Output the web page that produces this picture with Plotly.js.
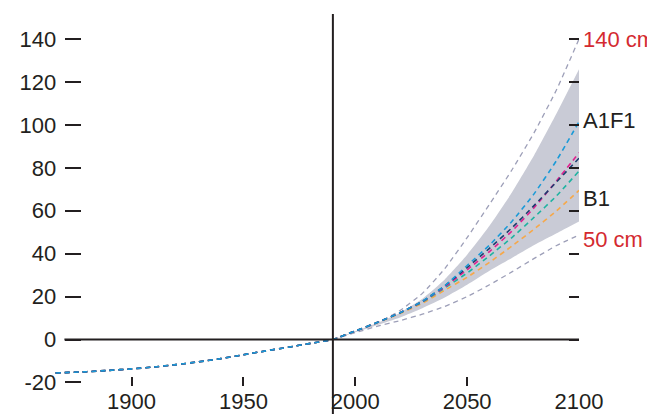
<!DOCTYPE html>
<html>
<head>
<meta charset="utf-8">
<script src="https://cdn.plot.ly/plotly-3.0.1.min.js"></script>
<style>
  html, body { margin: 0; padding: 0; background: #ffffff; }
  #chart { width: 647px; height: 414px; }
</style>
</head>
<body>
<div id="chart"></div>
<script>
// ---- data (cm of sea-level change relative to 1990) ----
const histYears  = [1866, 1880, 1890, 1900, 1910, 1920, 1930, 1940, 1950, 1960, 1970, 1980, 1990];
const histValues = [-15.6, -15.0, -14.4, -13.7, -12.8, -11.7, -10.4, -8.9, -7.1, -5.3, -3.6, -1.8, 0];

const futureYears = [1990, 2000, 2010, 2020, 2030, 2040, 2050, 2060, 2070, 2080, 2090, 2100];
const bandUpper   = [0, 3.8, 7.8, 12.5, 19, 28, 39.5, 53, 68.5, 86, 105.5, 126];
const bandLower   = [0, 3.4, 6.8, 10.3, 14.6, 19.6, 25.5, 32, 38, 44, 49.5, 55];
const upper140    = [0, 3.6, 7.8, 13.5, 21.5, 33, 47.5, 63, 79, 96.5, 116.5, 140];
const lower50     = [0, 3.2, 6.2, 8.8, 11.8, 15.4, 20, 25.5, 31.5, 37.8, 43.8, 48.7];
const seriesA1F1  = [0, 4, 8, 12.5, 17.8, 25, 34.5, 44, 55, 68, 83.5, 101.5];
const seriesMagenta = [0, 4, 8, 12.5, 17.6, 24.5, 32.5, 41, 50.5, 61.5, 74, 87];
const seriesNavy  = [0, 4, 8, 12.5, 17.8, 25, 33.5, 42.5, 52, 62.5, 73.5, 84.5];
const seriesTeal  = [0, 4, 8, 12.4, 17.4, 24, 31, 39, 47.5, 57, 67, 78.5];
const seriesB1    = [0, 4, 7.9, 12.1, 16.9, 23, 29, 36, 43.5, 51.5, 60, 69.5];

const xTickVals = [1900, 1950, 2000, 2050, 2100];
const yTickVals = [-20, 0, 20, 40, 60, 80, 100, 120, 140];
const yTickValsRight = [0, 20, 40, 60, 80, 100, 120, 140];

const labels = [
  {text: '140 cm', y: 140, color: '#d42a30'},
  {text: 'A1F1',   y: 102, color: '#231f20'},
  {text: 'B1',     y: 65.5, color: '#231f20'},
  {text: '50 cm',  y: 46.4, color: '#d42a30'}
];

// ---- styles ----
const FONT = 'Liberation Sans, Arial, sans-serif';
const FSIZE = 22;
const INK = '#231f20';
const DASH = '5px,4px';

function withHistory(vals) {
  return {
    x: histYears.concat(futureYears.slice(1)),
    y: histValues.concat(vals.slice(1))
  };
}

const SPL = {shape: 'spline', smoothing: 0.5};
const traces = [];
traces.push({x: futureYears, y: bandLower, mode: 'lines', line: Object.assign({width: 0, color: 'rgba(0,0,0,0)'}, SPL), hoverinfo: 'skip'});
traces.push({x: futureYears, y: bandUpper, mode: 'lines', fill: 'tonexty', fillcolor: '#c9cbd6', line: Object.assign({width: 0, color: 'rgba(0,0,0,0)'}, SPL), hoverinfo: 'skip'});
traces.push({x: futureYears, y: upper140, mode: 'lines', line: Object.assign({width: 1.3, color: '#9d9fb8', dash: DASH}, SPL)});
traces.push({x: futureYears, y: lower50, mode: 'lines', line: Object.assign({width: 1.3, color: '#9d9fb8', dash: DASH}, SPL)});

const colored = [
  {vals: seriesB1, color: '#f6a84a'},
  {vals: seriesTeal, color: '#1fb3a1'},
  {vals: seriesMagenta, color: '#e0208f'},
  {vals: seriesNavy, color: '#1d3c6e'},
  {vals: seriesA1F1, color: '#1b9ad7'}
];
colored.forEach(function (s, i) {
  const d = withHistory(s.vals);
  traces.push({x: d.x, y: d.y, mode: 'lines', line: Object.assign({width: 1.6, color: s.color, dash: DASH}, SPL)});
});

// placeholder trace to activate right axis
traces.push({x: [2100], y: [0], yaxis: 'y2', mode: 'markers', marker: {opacity: 0}, hoverinfo: 'skip'});

const yRange = [-21.67, 151.7];

const layout = {
  width: 647, height: 414,
  margin: {l: 55, r: 68.3, t: 14, b: 28},
  paper_bgcolor: '#ffffff', plot_bgcolor: '#ffffff',
  showlegend: false,
  font: {family: FONT, size: FSIZE, color: INK},
  xaxis: {
    range: [1865.8, 2100],
    tickvals: xTickVals, ticktext: xTickVals.map(String),
    ticks: 'inside', ticklen: 9, tickwidth: 2, tickcolor: INK,
    showgrid: false, zeroline: false, showline: false,
    ticklabelstandoff: 0,
    tickfont: {family: FONT, size: FSIZE, color: INK}
  },
  yaxis: {
    range: yRange,
    anchor: 'free', position: 0.0178,
    tickvals: yTickVals, ticktext: yTickVals.map(String),
    ticks: 'inside', ticklen: 16, tickwidth: 2, tickcolor: INK,
    showgrid: false, zeroline: false, showline: false,
    ticklabelstandoff: 8,
    tickfont: {family: FONT, size: FSIZE, color: INK}
  },
  yaxis2: {
    range: yRange, overlaying: 'y', side: 'right', anchor: 'x',
    tickvals: yTickValsRight,
    ticks: 'inside', ticklen: 10, tickwidth: 2, tickcolor: INK,
    showticklabels: false, showgrid: false, zeroline: false, showline: false
  },
  shapes: [
    {type: 'line', xref: 'x', yref: 'y', x0: 1870, x1: 2100, y0: 0, y1: 0, line: {color: INK, width: 2.2}},
    {type: 'line', xref: 'x', yref: 'paper', x0: 1990, x1: 1990, y0: -0.08, y1: 1, line: {color: INK, width: 2}}
  ],
  annotations: labels.map(function (a) {
    return {xref: 'paper', yref: 'y', x: 1, y: a.y, xanchor: 'left', yanchor: 'middle', xshift: 2,
            text: a.text, showarrow: false, font: {family: FONT, size: FSIZE, color: a.color}};
  })
};

Plotly.newPlot('chart', traces, layout, {displayModeBar: false, staticPlot: true});
</script>
</body>
</html>
